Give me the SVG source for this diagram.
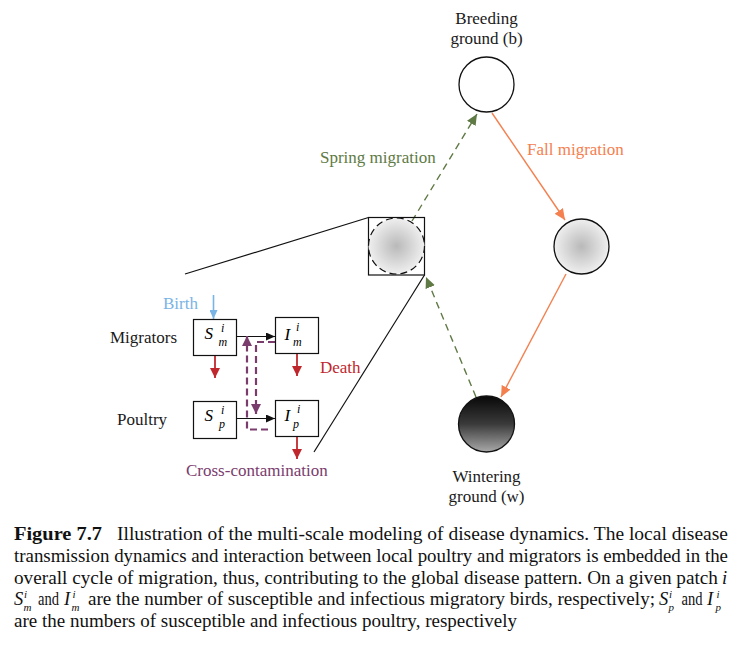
<svg xmlns="http://www.w3.org/2000/svg" width="743" height="652" viewBox="0 0 743 652">
<style>
text{font-family:"Liberation Serif","Times New Roman",serif;}
.lbl{font-size:17px;fill:#1a1a1a;}
.cap{font-size:18.5px;fill:#111;}
.it{font-style:italic;}
.box{fill:#fff;stroke:#111;stroke-width:1.2;}
.blk{stroke:#111;stroke-width:1.2;fill:none;}
.grn{stroke:#607a45;stroke-width:1.4;stroke-dasharray:7,5;fill:none;}
.org{stroke:#f4804f;stroke-width:1.4;fill:none;}
.red{stroke:#c0272d;stroke-width:1.8;fill:none;}
.pur{stroke:#7a3c6d;stroke-width:2.2;stroke-dasharray:7,4;fill:none;}
.blu{stroke:#7ab4e4;stroke-width:1.6;fill:none;}
.m{font-size:17px;}
.s{font-size:12px;}
.cs{font-size:11px;}
</style>
<defs>
<radialGradient id="grey" cx="0.5" cy="0.5" r="0.5">
<stop offset="0" stop-color="#b9b9b9"/>
<stop offset="1" stop-color="#efefef"/>
</radialGradient>
<linearGradient id="dark" x1="0" y1="0" x2="0" y2="1">
<stop offset="0" stop-color="#080808"/>
<stop offset="0.5" stop-color="#3a3a3a"/>
<stop offset="1" stop-color="#a9a9a9"/>
</linearGradient>
<marker id="aG" markerUnits="userSpaceOnUse" markerWidth="12" markerHeight="10" refX="11" refY="5" orient="auto"><path d="M0,0 L11,5 L0,10 Z" fill="#607a45"/></marker>
<marker id="aO" markerUnits="userSpaceOnUse" markerWidth="12" markerHeight="10" refX="11" refY="5" orient="auto"><path d="M0,0 L11,5 L0,10 Z" fill="#f4804f"/></marker>
<marker id="aR" markerUnits="userSpaceOnUse" markerWidth="11" markerHeight="10" refX="10" refY="5" orient="auto"><path d="M0,0 L10,5 L0,10 Z" fill="#c0272d"/></marker>
<marker id="aK" markerUnits="userSpaceOnUse" markerWidth="10" markerHeight="8" refX="9" refY="4" orient="auto"><path d="M0,0 L9,4 L0,8 Z" fill="#111"/></marker>
<marker id="aP" markerUnits="userSpaceOnUse" markerWidth="11" markerHeight="10" refX="10" refY="5" orient="auto"><path d="M0,0 L10,5 L0,10 Z" fill="#7a3c6d"/></marker>
<marker id="aB" markerUnits="userSpaceOnUse" markerWidth="10" markerHeight="8" refX="9" refY="4" orient="auto"><path d="M0,0 L9,4 L0,8 Z" fill="#7ab4e4"/></marker>
</defs>

<g id="connectors">
<line class="blk" x1="185" y1="274" x2="368.5" y2="217.5"/>
<line class="blk" x1="314" y1="452" x2="424.5" y2="275"/>
<line class="grn" x1="412" y1="221" x2="477" y2="114" marker-end="url(#aG)"/>
<line class="grn" x1="476" y1="397" x2="426" y2="277" marker-end="url(#aG)"/>
<line class="org" x1="492" y1="113" x2="565" y2="220" marker-end="url(#aO)"/>
<line class="org" x1="566" y1="274" x2="501" y2="397" marker-end="url(#aO)"/>
<line class="blu" x1="213.5" y1="295" x2="213.5" y2="319" marker-end="url(#aB)"/>
<line class="blk" x1="237" y1="336.5" x2="275" y2="336.5" marker-end="url(#aK)"/>
<line class="blk" x1="237" y1="418.5" x2="275" y2="418.5" marker-end="url(#aK)"/>
<line class="red" x1="215" y1="355.5" x2="215" y2="378" marker-end="url(#aR)"/>
<line class="red" x1="297" y1="353.5" x2="297" y2="376" marker-end="url(#aR)"/>
<line class="red" x1="297" y1="437" x2="297" y2="459" marker-end="url(#aR)"/>
<path class="pur" d="M275,342 H256 V414" marker-end="url(#aP)"/>
<path class="pur" d="M268,429.5 H247 V336" marker-end="url(#aP)"/>
</g>

<g id="breeding">
<circle cx="486.5" cy="84.5" r="27.5" fill="#fff" stroke="#111" stroke-width="1.3"/>
<text class="lbl" x="486.5" y="24" text-anchor="middle">Breeding</text>
<text class="lbl" x="486.5" y="44" text-anchor="middle">ground (b)</text>
</g>
<g id="stopover">
<circle cx="581.5" cy="246.5" r="27.5" fill="url(#grey)" stroke="#111" stroke-width="1.3"/>
</g>
<g id="wintering">
<circle cx="486.5" cy="424" r="28" fill="url(#dark)" stroke="#111" stroke-width="1.3"/>
<text class="lbl" x="486.5" y="482" text-anchor="middle">Wintering</text>
<text class="lbl" x="486.5" y="502" text-anchor="middle">ground (w)</text>
</g>
<g id="patch">
<rect x="368.5" y="217.5" width="56" height="57.5" fill="none" stroke="#111" stroke-width="1.2"/>
<circle cx="396.5" cy="246" r="28" fill="url(#grey)" stroke="#111" stroke-width="1.2" stroke-dasharray="7,4"/>
</g>

<g id="labels">
<text x="320" y="163" style="font-size:17px;fill:#607a45">Spring migration</text>
<text x="527" y="155" style="font-size:17px;fill:#f4804f">Fall migration</text>
<text x="163" y="309" style="font-size:17px;fill:#7ab4e4">Birth</text>
<text x="320" y="373" style="font-size:17px;fill:#c0272d">Death</text>
<text x="186" y="476" style="font-size:17px;fill:#7a3c6d">Cross-contamination</text>
<text class="lbl" x="110" y="343">Migrators</text>
<text class="lbl" x="117" y="425">Poultry</text>
</g>

<g id="Sm">
<rect class="box" x="193.5" y="319.5" width="43" height="36"/>
<text class="it m" x="204.5" y="339">S</text>
<text class="it s" x="221" y="331.5">i</text>
<text class="it s" x="218.5" y="346">m</text>
</g>
<g id="Im">
<rect class="box" x="275.5" y="317.5" width="43" height="36"/>
<text class="it m" x="284.5" y="340">I</text>
<text class="it s" x="296" y="331">i</text>
<text class="it s" x="293" y="345.5">m</text>
</g>
<g id="Sp">
<rect class="box" x="193.5" y="401.5" width="43" height="37"/>
<text class="it m" x="204.5" y="421">S</text>
<text class="it s" x="221" y="413.5">i</text>
<text class="it s" x="219" y="428">p</text>
</g>
<g id="Ip">
<rect class="box" x="275.5" y="400.5" width="43" height="36"/>
<text class="it m" x="284.5" y="421">I</text>
<text class="it s" x="297" y="412.5">i</text>
<text class="it s" x="293" y="427.5">p</text>
</g>

<g id="caption" class="cap">
<text x="14" y="540" font-weight="bold" textLength="88" lengthAdjust="spacingAndGlyphs">Figure 7.7</text>
<text x="117" y="540" textLength="611" lengthAdjust="spacingAndGlyphs">Illustration of the multi-scale modeling of disease dynamics. The local disease</text>
<text x="14" y="562" textLength="714" lengthAdjust="spacingAndGlyphs">transmission dynamics and interaction between local poultry and migrators is embedded in the</text>
<text x="14" y="584" textLength="704" lengthAdjust="spacingAndGlyphs">overall cycle of migration, thus, contributing to the global disease pattern. On a given patch</text>
<text class="it" x="722" y="584">i</text>
<text class="it" x="14" y="605">S</text>
<text class="it cs" x="24" y="598">i</text>
<text class="it cs" x="23.5" y="611">m</text>
<text x="38" y="605" textLength="21" lengthAdjust="spacingAndGlyphs">and</text>
<text class="it" x="64" y="605">I</text>
<text class="it cs" x="72.5" y="598">i</text>
<text class="it cs" x="71.5" y="611">m</text>
<text x="88" y="605" textLength="567" lengthAdjust="spacingAndGlyphs">are the number of susceptible and infectious migratory birds, respectively;</text>
<text class="it" x="659" y="605">S</text>
<text class="it cs" x="669" y="598">i</text>
<text class="it cs" x="668.5" y="611">p</text>
<text x="681.5" y="605" textLength="21" lengthAdjust="spacingAndGlyphs">and</text>
<text class="it" x="707" y="605">I</text>
<text class="it cs" x="716.5" y="598">i</text>
<text class="it cs" x="715.5" y="611">p</text>
<text x="14" y="627" textLength="503" lengthAdjust="spacingAndGlyphs">are the numbers of susceptible and infectious poultry, respectively</text>
</g>
</svg>
